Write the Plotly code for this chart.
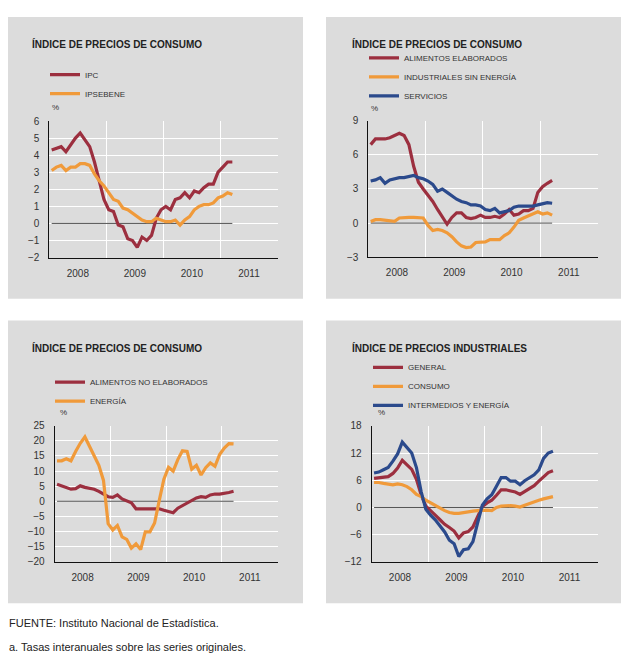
import plotly.graph_objects as go

W, H = 629, 668
OFF = 8  # margen del body de la página

# meses de enero 2008 a marzo 2011 (mitad de mes)
meses = [2008 + (i + 0.5) / 12 for i in range(39)]
anios = ["2008", "2009", "2010", "2011"]
cero = [0] * len(meses)

# IPC
ipc = [4.3, 4.4, 4.5, 4.2, 4.6, 5.0, 5.3, 4.9, 4.5, 3.6, 2.4, 1.4,
       0.8, 0.7, -0.1, -0.2, -0.9, -1.0, -1.4, -0.8, -1.0, -0.7, 0.3, 0.8,
       1.0, 0.8, 1.4, 1.5, 1.8, 1.5, 1.9, 1.8, 2.1, 2.3, 2.3, 3.0,
       3.3, 3.6, 3.6]
ipsebene = [3.1, 3.3, 3.4, 3.1, 3.3, 3.3, 3.5, 3.5, 3.4, 2.9, 2.5, 2.2,
            1.8, 1.4, 1.3, 0.9, 0.8, 0.6, 0.4, 0.2, 0.1, 0.1, 0.3, 0.2,
            0.1, 0.1, 0.2, -0.1, 0.2, 0.4, 0.8, 1.0, 1.1, 1.1, 1.2, 1.5,
            1.6, 1.8, 1.7]

# componentes del IPC
alim_elab = [6.9, 7.4, 7.4, 7.4, 7.5, 7.7, 7.9, 7.7, 6.9, 5.0, 3.6, 3.0,
             2.5, 1.9, 1.2, 0.6, -0.1, 0.5, 0.9, 0.9, 0.5, 0.4, 0.5, 0.7,
             0.5, 0.5, 0.6, 0.5, 0.8, 1.2, 0.7, 0.8, 1.1, 1.1, 1.3, 2.7,
             3.2, 3.5, 3.75]
ind_sin_energia = [0.15, 0.3, 0.3, 0.25, 0.2, 0.15, 0.45, 0.5, 0.5, 0.5, 0.5, 0.45,
                   -0.2, -0.65, -0.55, -0.65, -0.85, -1.2, -1.65, -2.0, -2.15, -2.1, -1.7, -1.7,
                   -1.65, -1.45, -1.45, -1.45, -1.1, -0.85, -0.35, 0.25, 0.45, 0.65, 0.85, 1.0,
                   0.8, 0.9, 0.7]
servicios = [3.7, 3.8, 4.0, 3.5, 3.8, 3.9, 4.0, 4.0, 4.1, 4.2, 4.0, 3.9,
             3.7, 3.4, 2.8, 3.0, 2.7, 2.4, 2.1, 1.9, 1.8, 1.6, 1.6, 1.5,
             1.2, 1.1, 1.3, 0.9, 1.0, 1.1, 1.4, 1.5, 1.5, 1.5, 1.5, 1.6,
             1.7, 1.8, 1.75]

alim_no_elab = [5.6, 5.1, 4.6, 4.0, 4.2, 5.1, 4.6, 4.3, 4.0, 3.3, 2.4, 1.5,
                1.3, 2.1, 0.8, 0.2, -0.5, -2.5, -2.5, -2.3, -2.3, -2.3, -2.5, -3.0,
                -3.3, -3.8, -2.3, -1.4, -0.6, 0.4, 1.1, 1.5, 1.3, 2.1, 2.4, 2.4,
                2.6, 2.9, 3.3]
energia = [13.4, 13.4, 14.1, 13.4, 16.5, 19.2, 21.3, 18.1, 15.3, 11.9, 6.9, -7.4,
           -9.5, -8.0, -11.8, -12.6, -15.5, -14.1, -16.0, -10.1, -10.1, -7.2, 0.2, 7.3,
           11.2, 10.0, 13.8, 16.7, 16.5, 10.6, 11.9, 8.7, 11.1, 12.7, 11.6, 15.5,
           17.6, 19.1, 19.0]

# precios industriales
ipri_general = [6.4, 6.5, 6.6, 6.8, 7.5, 8.7, 10.4, 9.5, 8.4, 6.2, 2.8, 0.3,
                -0.6, -1.7, -2.7, -3.7, -4.4, -5.2, -6.7, -5.6, -5.3, -4.3, -2.0, 0.2,
                1.0, 1.6, 2.7, 3.9, 3.9, 3.6, 3.4, 2.9, 3.6, 4.3, 4.8, 5.8,
                6.8, 7.7, 8.1]
ipri_consumo = [5.5, 5.5, 5.3, 5.2, 5.0, 5.2, 5.0, 4.6, 3.9, 2.9, 2.4, 1.6,
                1.0, 0.5, -0.1, -0.7, -1.1, -1.3, -1.3, -1.1, -0.9, -0.8, -0.7, -0.6,
                -0.6, -0.7, 0.0, 0.3, 0.4, 0.4, 0.3, 0.1, 0.5, 0.9, 1.2, 1.6,
                1.9, 2.2, 2.4]
ipri_intermedios = [7.6, 7.8, 8.3, 8.8, 10.2, 11.8, 14.4, 13.1, 12.0, 8.8, 3.5, -0.4,
                    -1.7, -2.7, -4.1, -5.4, -7.2, -8.0, -10.8, -9.3, -9.1, -7.5, -3.4, 0.5,
                    1.9, 2.8, 4.7, 6.6, 6.6, 5.8, 5.8, 5.0, 5.9, 6.6, 7.2, 8.3,
                    10.8, 12.0, 12.4]

ROJO = "#9c2f3f"
NARANJA = "#f09a3a"
AZUL = "#2b4a8c"
FONDO = "#dcdcdc"
TEXTO = "#333333"
FUENTE = "Liberation Sans, Arial, sans-serif"


def px(x):
    return (x - OFF) / W


def py(y):
    return 1 - (y - OFF) / H


paneles = [
    dict(titulo="ÍNDICE DE PRECIOS DE CONSUMO",
         series=[("IPC", ipc, ROJO), ("IPSEBENE", ipsebene, NARANJA)],
         rango=[-2, 6], paso=1,
         caja=(7, 11, 303, 298), area=(49.3, 117, 277.5, 256),
         leyenda=(45, 55), pct=(50, 103), tit=(30, 39)),
    dict(titulo="ÍNDICE DE PRECIOS DE CONSUMO",
         series=[("ALIMENTOS ELABORADOS", alim_elab, ROJO),
                 ("INDUSTRIALES SIN ENERGÍA", ind_sin_energia, NARANJA),
                 ("SERVICIOS", servicios, AZUL)],
         rango=[-3, 9], paso=3,
         caja=(326, 11, 627, 298), area=(368.3, 116.7, 597.5, 255.7),
         leyenda=(364, 38), pct=(369, 104), tit=(350, 39)),
    dict(titulo="ÍNDICE DE PRECIOS DE CONSUMO",
         series=[("ALIMENTOS NO ELABORADOS", alim_no_elab, ROJO),
                 ("ENERGÍA", energia, NARANJA)],
         rango=[-20, 25], paso=5,
         caja=(7, 320, 303, 608), area=(54.7, 427.3, 277.7, 565.7),
         leyenda=(50, 368), pct=(58, 414), tit=(30, 348)),
    dict(titulo="ÍNDICE DE PRECIOS INDUSTRIALES",
         series=[("GENERAL", ipri_general, ROJO),
                 ("CONSUMO", ipri_consumo, NARANJA),
                 ("INTERMEDIOS Y ENERGÍA", ipri_intermedios, AZUL)],
         rango=[-12, 18], paso=6,
         caja=(326, 320, 627, 608), area=(371.7, 427.3, 597.7, 566),
         leyenda=(368, 353), pct=(376, 414), tit=(350, 348)),
]

fig = go.Figure()
shapes, annotations = [], []
layout = {}

for k, p in enumerate(paneles, start=1):
    sfx = "" if k == 1 else str(k)
    xa, ya = "x" + sfx, "y" + sfx
    leg = "legend" + sfx

    fig.add_trace(go.Scatter(x=meses, y=cero, mode="lines", xaxis=xa, yaxis=ya,
                             line=dict(color="#555555", width=1),
                             showlegend=False, hoverinfo="skip"))
    for nombre, valores, color in p["series"]:
        fig.add_trace(go.Scatter(x=meses, y=valores, mode="lines", name=nombre,
                                 xaxis=xa, yaxis=ya, legend=leg,
                                 line=dict(color=color, width=3.2)))

    x0, y0, x1, y1 = p["caja"]
    shapes.append(dict(type="rect", xref="paper", yref="paper", layer="below",
                       x0=px(x0), x1=px(x1), y0=py(y1), y1=py(y0),
                       fillcolor=FONDO, line=dict(width=0)))

    ax0, ay0, ax1, ay1 = p["area"]
    layout["xaxis" + sfx] = dict(
        domain=[px(ax0), px(ax1)], anchor=ya, range=[2008, 2012],
        tickvals=[2008.5, 2009.5, 2010.5, 2011.5], ticktext=anios,
        showgrid=False, zeroline=False, ticks="", ticklabelstandoff=6,
        showline=True, linecolor="#111111", linewidth=1,
        minor=dict(tickvals=[2009, 2010, 2011, 2012], showgrid=True,
                   gridcolor="white", gridwidth=1, ticks=""),
        tickfont=dict(size=10, color=TEXTO), fixedrange=True)
    layout["yaxis" + sfx] = dict(
        domain=[py(ay1), py(ay0)], anchor=xa, range=p["rango"],
        tick0=0, dtick=p["paso"], showgrid=True, gridcolor="white", gridwidth=1,
        zeroline=False, ticks="", ticklabelstandoff=7,
        showline=True, linecolor="#111111", linewidth=1,
        tickfont=dict(size=10, color=TEXTO), fixedrange=True)

    lx, ly = p["leyenda"]
    layout[leg] = dict(x=px(lx), y=py(ly), xanchor="left", yanchor="top",
                       bgcolor="rgba(0,0,0,0)", borderwidth=0,
                       font=dict(size=8, color=TEXTO, family=FUENTE),
                       itemwidth=30, tracegroupgap=0, traceorder="normal")

    tx, ty = p["tit"]
    annotations.append(dict(text="<b>" + p["titulo"] + "</b>", x=px(tx), y=py(ty),
                            xref="paper", yref="paper", xanchor="left", yanchor="middle",
                            showarrow=False, font=dict(size=10, color="#222222")))
    cx, cy = p["pct"]
    annotations.append(dict(text="%", x=px(cx), y=py(cy), xref="paper", yref="paper",
                            xanchor="left", yanchor="middle", showarrow=False,
                            font=dict(size=8, color=TEXTO)))

annotations.append(dict(text="FUENTE: Instituto Nacional de Estadística.",
                        x=px(7), y=py(628), xref="paper", yref="paper",
                        xanchor="left", yanchor="middle", showarrow=False,
                        font=dict(size=11, color="#222222")))
annotations.append(dict(text="a. Tasas interanuales sobre las series originales.",
                        x=px(7), y=py(653), xref="paper", yref="paper",
                        xanchor="left", yanchor="middle", showarrow=False,
                        font=dict(size=11, color="#222222")))

fig.update_layout(
    width=W, height=H, margin=dict(l=0, r=0, t=0, b=0),
    paper_bgcolor="white", plot_bgcolor="rgba(0,0,0,0)",
    font=dict(family=FUENTE, color=TEXTO),
    shapes=shapes, annotations=annotations,
    **layout)

fig.write_html("out.html")
